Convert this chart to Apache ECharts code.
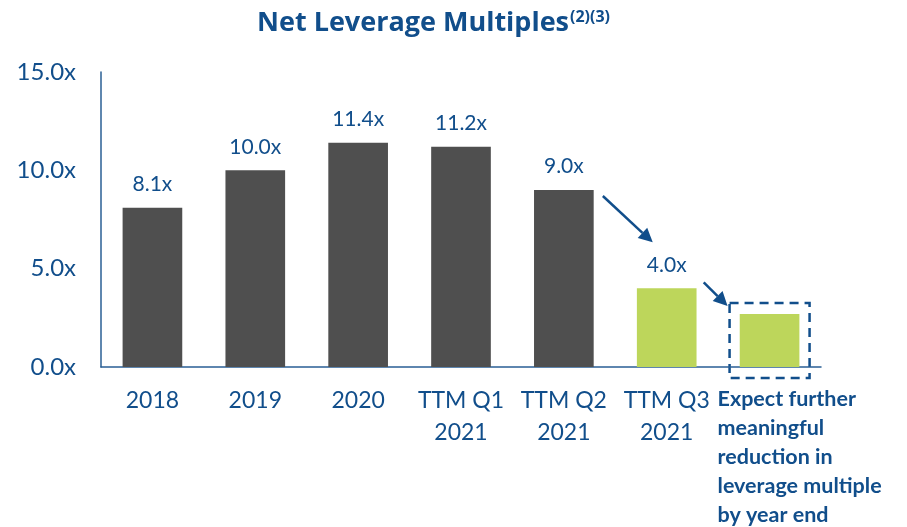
<!DOCTYPE html>
<html>
<head>
<meta charset="utf-8">
<script src="https://cdn.jsdelivr.net/npm/echarts@6/dist/echarts.min.js"></script>
<style>
  html, body { margin: 0; padding: 0; background: #fff; }
  #main { width: 907px; height: 527px; }
</style>
</head>
<body>
<div id="main"></div>
<script>
var categories = ['2018', '2019', '2020', 'TTM Q1\n2021', 'TTM Q2\n2021', 'TTM Q3\n2021',
  'Expect further\nmeaningful\nreduction in\nleverage multiple\nby year end'];
var leverage = [8.1, 10.0, 11.4, 11.2, 9.0, 4.0, 2.7];
var showLabel = [true, true, true, true, true, true, false];
var projected = [false, false, false, false, false, true, true];
var yTicks = [0, 5, 10, 15];

var blue = '#114e8b';
var font = 'Lato';

var chart = echarts.init(document.getElementById('main'));

var barData = leverage.map(function (v, i) {
  return {
    value: v,
    itemStyle: { color: projected[i] ? '#bdd65b' : '#4f4f4f' },
    label: { show: showLabel[i] }
  };
});

chart.setOption({
  animation: false,
  title: {
    text: '{a|Net Leverage Multiples}{b|(2)(3)}',
    left: 252,
    top: 4,
    textStyle: {
      rich: {
        a: { fontFamily: 'Open Sans', fontWeight: 'bold', fontSize: 27, color: blue },
        b: { fontFamily: 'Open Sans', fontWeight: 'bold', fontSize: 16, color: blue, padding: [0, 0, 13, 1] }
      }
    }
  },
  grid: { left: 101, right: 86, top: 72, bottom: 160, outerBoundsMode: 'none' },
  xAxis: {
    type: 'category',
    data: categories,
    axisLine: { lineStyle: { color: '#2a5f95', width: 1.5 } },
    axisTick: { show: false },
    axisLabel: {
      interval: 0,
      margin: 18,
      color: blue,
      fontFamily: font,
      fontSize: 23,
      lineHeight: 32,
      formatter: function (v, i) {
        if (i === categories.length - 1) {
          return v.split('\n').map(function (s) { return '{e|' + s + '}'; }).join('\n');
        }
        return v;
      },
      rich: {
        e: {
          fontFamily: font, fontWeight: 'bold', fontSize: 21.5, lineHeight: 29,
          color: blue, align: 'left', width: 170, padding: [0, 0, 0, 66]
        }
      }
    }
  },
  yAxis: {
    type: 'value',
    min: yTicks[0],
    max: yTicks[yTicks.length - 1],
    interval: 5,
    axisLine: { show: true, lineStyle: { color: '#2a5f95', width: 1.5 } },
    axisTick: { show: false },
    splitLine: { show: false },
    axisLabel: {
      margin: 25,
      color: blue,
      fontFamily: font,
      fontSize: 24,
      formatter: function (v) { return v.toFixed(1) + 'x'; }
    }
  },
  series: [{
    type: 'bar',
    data: barData,
    barWidth: '58%',
    label: {
      position: 'top',
      distance: 13,
      color: blue,
      fontFamily: font,
      fontSize: 21,
      formatter: function (p) { return p.value.toFixed(1) + 'x'; }
    }
  }]
});

// annotations placed from data coordinates
function px(i, v) { return chart.convertToPixel({ seriesIndex: 0 }, [i, v]); }

function arrow(x1, y1, x2, y2) {
  var ang = Math.atan2(y2 - y1, x2 - x1);
  var head = 14, half = 7;
  var bx = x2 - head * Math.cos(ang), by = y2 - head * Math.sin(ang);
  return [
    { type: 'line', shape: { x1: x1, y1: y1, x2: bx, y2: by }, style: { stroke: blue, lineWidth: 2.5 } },
    { type: 'polygon', shape: { points: [
      [x2, y2],
      [bx + half * Math.sin(ang), by - half * Math.cos(ang)],
      [bx - half * Math.sin(ang), by + half * Math.cos(ang)]
    ] }, style: { fill: blue } }
  ];
}

var q2 = px(4, leverage[4]);
var q3 = px(5, leverage[5]);
var last = px(6, leverage[6]);
var base = px(6, 0);
var half = 40;

var elements = []
  .concat(arrow(q2[0] + 39, q2[1] + 6, q3[0] - 14, q3[1] - 46))
  .concat(arrow(q3[0] + 37, q3[1] - 6, last[0] - 42, last[1] - 8))
  .concat([{
    type: 'rect',
    shape: { x: last[0] - half, y: last[1] - 11, width: half * 2, height: base[1] - last[1] + 22 },
    style: { fill: null, stroke: blue, lineWidth: 2.5, lineDash: [9, 6] }
  }]);

chart.setOption({ graphic: { elements: elements } });
</script>
</body>
</html>
